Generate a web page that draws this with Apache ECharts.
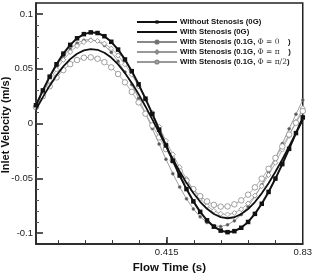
<!DOCTYPE html>
<html>
<head>
<meta charset="utf-8">
<script src="https://cdn.jsdelivr.net/npm/echarts@6/dist/echarts.min.js"></script>
<style>
  html, body { margin: 0; padding: 0; background: #fff; }
  #main { width: 315px; height: 279px; }
</style>
</head>
<body>
<div id="main"></div>
<script>
// flow time (s)
var time = [0.0166, 0.0375, 0.0583, 0.0792, 0.1000, 0.1209, 0.1418, 0.1626, 0.1835, 0.2043,
    0.2252, 0.2461, 0.2669, 0.2878, 0.3086, 0.3295, 0.3504, 0.3712, 0.3921, 0.4129,
    0.4338, 0.4547, 0.4755, 0.4964, 0.5172, 0.5381, 0.5590, 0.5798, 0.6007, 0.6215,
    0.6424, 0.6633, 0.6841, 0.7050, 0.7258, 0.7467, 0.7676, 0.7884, 0.8093, 0.8301];

// inlet velocity (m/s)
var withoutStenosis = [0.0167, 0.0302, 0.0428, 0.0541, 0.0638, 0.0718, 0.0778, 0.0816, 0.0832, 0.0826,
    0.0797, 0.0746, 0.0675, 0.0585, 0.0478, 0.0358, 0.0227, 0.0088, -0.0056, -0.0199,
    -0.0340, -0.0474, -0.0598, -0.0710, -0.0806, -0.0883, -0.0941, -0.0977, -0.0991, -0.0982,
    -0.0951, -0.0898, -0.0824, -0.0732, -0.0624, -0.0502, -0.0370, -0.0231, -0.0087, 0.0056];
var withStenosis = [0.0127, 0.0241, 0.0346, 0.0441, 0.0522, 0.0588, 0.0637, 0.0668, 0.0680, 0.0673,
    0.0646, 0.0602, 0.0540, 0.0462, 0.0371, 0.0268, 0.0156, 0.0038, -0.0083, -0.0205,
    -0.0324, -0.0437, -0.0541, -0.0634, -0.0714, -0.0778, -0.0825, -0.0854, -0.0864, -0.0855,
    -0.0826, -0.0780, -0.0716, -0.0637, -0.0544, -0.0440, -0.0328, -0.0209, -0.0088, 0.0034];
var phi0 = [0.0178, 0.0305, 0.0422, 0.0525, 0.0613, 0.0683, 0.0733, 0.0761, 0.0767, 0.0751,
    0.0712, 0.0650, 0.0569, 0.0470, 0.0356, 0.0229, 0.0094, -0.0046, -0.0187, -0.0325,
    -0.0457, -0.0579, -0.0687, -0.0779, -0.0851, -0.0903, -0.0933, -0.0939, -0.0924, -0.0888,
    -0.0831, -0.0756, -0.0665, -0.0559, -0.0441, -0.0315, -0.0183, -0.0048, 0.0086, 0.0215];
var phiPi = [0.0157, 0.0278, 0.0391, 0.0493, 0.0581, 0.0653, 0.0708, 0.0744, 0.0759, 0.0754,
    0.0729, 0.0684, 0.0621, 0.0541, 0.0446, 0.0338, 0.0221, 0.0098, -0.0029, -0.0157,
    -0.0281, -0.0398, -0.0507, -0.0603, -0.0685, -0.0750, -0.0796, -0.0823, -0.0830, -0.0816,
    -0.0782, -0.0729, -0.0658, -0.0571, -0.0470, -0.0358, -0.0238, -0.0113, 0.0015, 0.0141];
var phiHalfPi = [0.0150, 0.0249, 0.0340, 0.0421, 0.0488, 0.0542, 0.0580, 0.0601, 0.0604, 0.0591,
    0.0560, 0.0513, 0.0452, 0.0376, 0.0289, 0.0193, 0.0090, -0.0017, -0.0126, -0.0233,
    -0.0337, -0.0434, -0.0522, -0.0598, -0.0662, -0.0710, -0.0742, -0.0758, -0.0756, -0.0737,
    -0.0701, -0.0649, -0.0582, -0.0503, -0.0413, -0.0314, -0.0209, -0.0101, 0.0007, 0.0114];

var seriesNames = ['Without Stenosis (0G)', 'With Stenosis (0G)',
    'With Stenosis (0.1G, Φ = 0 )', 'With Stenosis (0.1G, Φ = π )', 'With Stenosis (0.1G, Φ = π/2)'];

var xLabelValues = [0.415, 0.83];
var xMinorTicks = [0.083, 0.166, 0.249, 0.332, 0.415, 0.498, 0.581, 0.664, 0.747];
var yLabelValues = [-0.1, -0.05, 0, 0.05, 0.1];
var yMinorTicks = [-0.1, -0.09, -0.08, -0.07, -0.06, -0.05, -0.04, -0.03, -0.02, -0.01, 0,
    0.01, 0.02, 0.03, 0.04, 0.05, 0.06, 0.07, 0.08, 0.09, 0.1];

function pairs(ys) {
    var res = [];
    for (var i = 0; i < time.length; i++) {
        res.push([time[i], ys[i]]);
    }
    return res;
}

var font = 'Liberation Sans, Arial, sans-serif';

var option = {
    animation: false,
    backgroundColor: '#fff',
    grid: {
        left: 36, right: 9, top: 3, bottom: 32,
        show: true, borderColor: '#222', borderWidth: 1.5
    },
    // y axis title, rotated, hugging the left edge like the original
    graphic: [{
        type: 'text',
        x: 6, y: 125,
        rotation: Math.PI / 2,
        style: {
            text: 'Inlet Velocity (m/s)',
            font: 'bold 11px Liberation Sans, Arial, sans-serif',
            fill: '#111',
            align: 'center',
            verticalAlign: 'middle'
        }
    }],
    legend: {
        orient: 'vertical',
        left: 131, top: 13,
        itemWidth: 40, itemHeight: 4, itemGap: 2,
        data: [
            seriesNames[0],
            { name: seriesNames[1], itemStyle: { opacity: 0 } },
            seriesNames[2], seriesNames[3], seriesNames[4]
        ],
        formatter: function (name) {
            var m = name.match(/^(.*, )(Φ = [^ )]*)( ?\))$/);
            if (m) {
                return '{b|' + m[1] + '}{s|' + m[2] + '}{b|' + (m[3] === ' )' ? '    )' : ')') + '}';
            }
            return '{b|' + name + '}';
        },
        textStyle: {
            padding: [0, 0, 0, -2],
            rich: {
                b: { fontFamily: font, fontWeight: 'bold', fontSize: 7.8, color: '#111' },
                s: { fontFamily: 'DejaVu Serif, serif', fontSize: 7.5, color: '#333' }
            }
        }
    },
    xAxis: [{
        type: 'value', min: 0.0166, max: 0.83,
        name: 'Flow Time (s)', nameLocation: 'middle', nameGap: 14,
        nameTextStyle: { fontFamily: font, fontWeight: 'bold', fontSize: 11.5, color: '#111' },
        axisLine: { onZero: false, lineStyle: { color: '#222', width: 1.5 } },
        axisTick: { inside: true, length: 4, customValues: xMinorTicks, lineStyle: { color: '#333' } },
        axisLabel: { customValues: xLabelValues, fontFamily: font, fontSize: 9.5, color: '#222', margin: 3 },
        splitLine: { show: false }
    }, {
        type: 'value', min: 0.0166, max: 0.83, position: 'bottom',
        axisLine: { show: false, onZero: false },
        axisTick: { inside: true, length: 7, customValues: [0.415], lineStyle: { color: '#222', width: 1.5 } },
        axisLabel: { show: false },
        splitLine: { show: false }
    }],
    yAxis: [{
        type: 'value', min: -0.11, max: 0.11,
        axisLine: { show: true, onZero: false, lineStyle: { color: '#222', width: 1.5 } },
        axisTick: { show: true, inside: true, length: 7, customValues: yLabelValues, lineStyle: { color: '#222', width: 1.5 } },
        axisLabel: { customValues: yLabelValues, fontFamily: font, fontSize: 9.5, color: '#222', margin: 3 },
        splitLine: { show: false }
    }, {
        type: 'value', min: -0.11, max: 0.11, position: 'left',
        axisLine: { show: false, onZero: false },
        axisTick: { show: true, inside: true, length: 3, customValues: yMinorTicks, lineStyle: { color: '#555' } },
        axisLabel: { show: false },
        splitLine: { show: false }
    }],
    series: [
        {
            name: seriesNames[0], type: 'line', data: pairs(withoutStenosis), z: 5,
            symbol: 'rect', symbolSize: 4.5,
            lineStyle: { color: '#111', width: 2 },
            itemStyle: { color: '#111' }
        },
        {
            name: seriesNames[1], type: 'line', data: pairs(withStenosis), z: 4,
            symbol: 'none',
            lineStyle: { color: '#111', width: 1.8 },
            itemStyle: { color: '#111' }
        },
        {
            name: seriesNames[2], type: 'line', data: pairs(phi0), z: 3,
            symbol: 'circle', symbolSize: 3,
            lineStyle: { color: '#888', width: 0.8 },
            itemStyle: { color: '#555', borderColor: '#777', borderWidth: 0.5 }
        },
        {
            name: seriesNames[3], type: 'line', data: pairs(phiPi), z: 3,
            symbol: 'diamond', symbolSize: 5,
            lineStyle: { color: '#999', width: 0.8 },
            itemStyle: { color: '#fff', borderColor: '#888', borderWidth: 0.8 }
        },
        {
            name: seriesNames[4], type: 'line', data: pairs(phiHalfPi), z: 3,
            symbol: 'circle', symbolSize: 5.5,
            lineStyle: { color: '#999', width: 0.8 },
            itemStyle: { color: '#fff', borderColor: '#888', borderWidth: 0.8 }
        }
    ]
};

var myChart = echarts.init(document.getElementById('main'));
myChart.setOption(option);
</script>
</body>
</html>
